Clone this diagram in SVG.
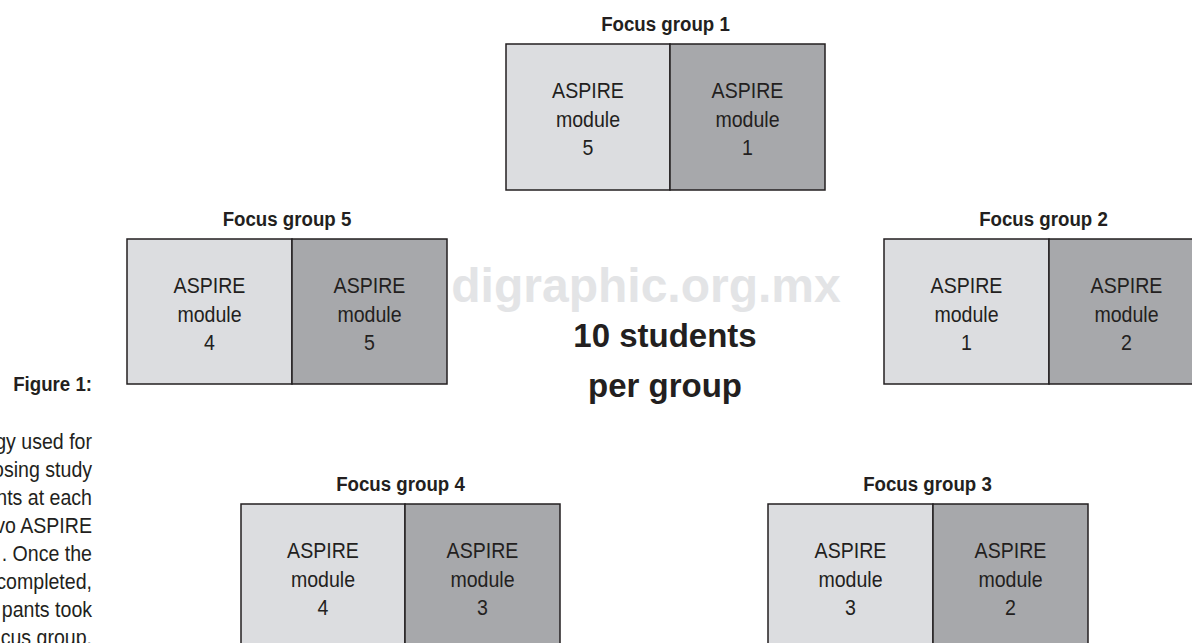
<svg xmlns="http://www.w3.org/2000/svg" width="1192" height="643" viewBox="0 0 1192 643">
  <style>
    text { font-family: "Liberation Sans", Arial, Helvetica, sans-serif; fill: #231f20; }
    .cl { fill: #dcdde0; stroke: #231f20; stroke-width: 1.5; }
    .cr { fill: #a7a8ab; stroke: #231f20; stroke-width: 1.5; }
    .t { font-size: 22px; text-anchor: middle; transform: scaleX(0.89); transform-box: fill-box; transform-origin: center; }
    .h { font-size: 21px; font-weight: bold; text-anchor: middle; transform: scaleX(0.89); transform-box: fill-box; transform-origin: center; }
    .cap { font-size: 22px; text-anchor: end; transform: scaleX(0.89); transform-box: fill-box; transform-origin: 100% 50%; }
    .caph { font-size: 21px; font-weight: bold; text-anchor: end; transform: scaleX(0.89); transform-box: fill-box; transform-origin: 100% 50%; }
    .wm { font-size: 48px; font-weight: bold; fill: #e3e4e6; text-anchor: middle; }
    .ctr { font-size: 33px; font-weight: bold; text-anchor: middle; }
  </style>
  <rect width="1192" height="643" fill="#ffffff"/>

  <text class="wm" x="646" y="302">digraphic.org.mx</text>

  <g id="caption">
    <text class="caph" x="92" y="391">Figure 1:</text>
    <text class="cap" x="92" y="449">gy used for</text>
    <text class="cap" x="92" y="477">osing study</text>
    <text class="cap" x="92" y="505">nts at each</text>
    <text class="cap" x="92" y="533">vo ASPIRE</text>
    <text class="cap" x="92" y="561">. Once the</text>
    <text class="cap" x="92" y="589">completed,</text>
    <text class="cap" x="92" y="617">pants took</text>
    <text class="cap" x="92" y="645">cus group.</text>
  </g>

  <g id="center-label">
    <text class="ctr" x="665" y="347">10 students</text>
    <text class="ctr" x="665" y="397">per group</text>
  </g>

  <g id="focus-group-1">
    <text class="h" x="665.5" y="31">Focus group 1</text>
    <rect class="cl" x="506" y="44" width="164" height="146"/>
    <rect class="cr" x="670" y="44" width="155" height="146"/>
    <text class="t" x="588" y="98.5">ASPIRE</text>
    <text class="t" x="588" y="127">module</text>
    <text class="t" x="588" y="155.5">5</text>
    <text class="t" x="747.5" y="98.5">ASPIRE</text>
    <text class="t" x="747.5" y="127">module</text>
    <text class="t" x="747.5" y="155.5">1</text>
  </g>

  <g id="focus-group-5">
    <text class="h" x="287" y="226">Focus group 5</text>
    <rect class="cl" x="127" y="239" width="165" height="145"/>
    <rect class="cr" x="292" y="239" width="155" height="145"/>
    <text class="t" x="209.5" y="293.5">ASPIRE</text>
    <text class="t" x="209.5" y="322">module</text>
    <text class="t" x="209.5" y="350.5">4</text>
    <text class="t" x="369.5" y="293.5">ASPIRE</text>
    <text class="t" x="369.5" y="322">module</text>
    <text class="t" x="369.5" y="350.5">5</text>
  </g>

  <g id="focus-group-2">
    <text class="h" x="1043.5" y="226">Focus group 2</text>
    <rect class="cl" x="884" y="239" width="165" height="145"/>
    <rect class="cr" x="1049" y="239" width="155" height="145"/>
    <text class="t" x="966.5" y="293.5">ASPIRE</text>
    <text class="t" x="966.5" y="322">module</text>
    <text class="t" x="966.5" y="350.5">1</text>
    <text class="t" x="1126.5" y="293.5">ASPIRE</text>
    <text class="t" x="1126.5" y="322">module</text>
    <text class="t" x="1126.5" y="350.5">2</text>
  </g>

  <g id="focus-group-4">
    <text class="h" x="400.5" y="491">Focus group 4</text>
    <rect class="cl" x="241" y="504" width="164" height="145"/>
    <rect class="cr" x="405" y="504" width="155" height="145"/>
    <text class="t" x="323" y="558.5">ASPIRE</text>
    <text class="t" x="323" y="587">module</text>
    <text class="t" x="323" y="615.5">4</text>
    <text class="t" x="482.5" y="558.5">ASPIRE</text>
    <text class="t" x="482.5" y="587">module</text>
    <text class="t" x="482.5" y="615.5">3</text>
  </g>

  <g id="focus-group-3">
    <text class="h" x="927.5" y="491">Focus group 3</text>
    <rect class="cl" x="768" y="504" width="165" height="145"/>
    <rect class="cr" x="933" y="504" width="155" height="145"/>
    <text class="t" x="850.5" y="558.5">ASPIRE</text>
    <text class="t" x="850.5" y="587">module</text>
    <text class="t" x="850.5" y="615.5">3</text>
    <text class="t" x="1010.5" y="558.5">ASPIRE</text>
    <text class="t" x="1010.5" y="587">module</text>
    <text class="t" x="1010.5" y="615.5">2</text>
  </g>

  <g id="connectors"></g>
</svg>
